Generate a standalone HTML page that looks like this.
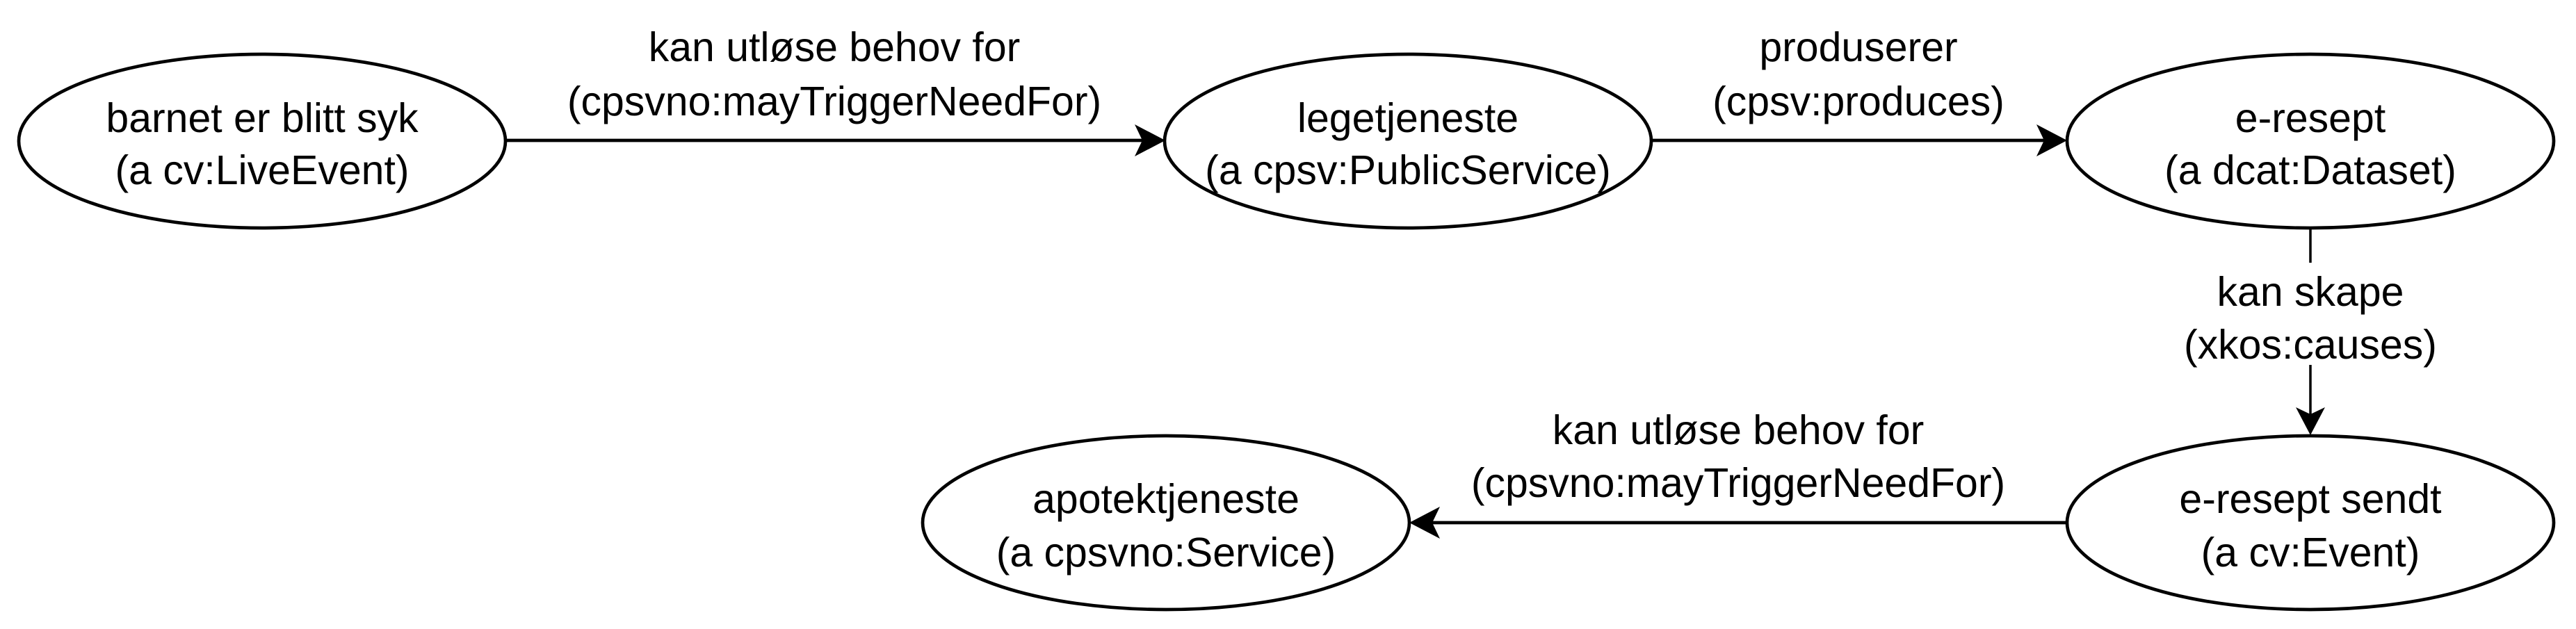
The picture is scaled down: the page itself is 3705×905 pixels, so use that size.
<!DOCTYPE html>
<html><head><meta charset="utf-8"><style>html,body{margin:0;padding:0;background:#fff}svg{display:block}</style></head><body>
<svg width="3705" height="905" viewBox="0 0 3705 905" xmlns="http://www.w3.org/2000/svg" font-family="Liberation Sans, Arial, sans-serif" font-size="59">
<g fill="#fff" stroke="#000" stroke-width="4.7">
<ellipse cx="377" cy="203" rx="350" ry="125"/>
<ellipse cx="2025" cy="203" rx="350" ry="125"/>
<ellipse cx="3323" cy="203" rx="350" ry="125"/>
<ellipse cx="3323" cy="752" rx="350" ry="125"/>
<ellipse cx="1677" cy="752" rx="350" ry="125"/>
</g>
<g stroke="#000" fill="none">
<line x1="728" y1="202" x2="1650" y2="202" stroke-width="4.7"/>
<line x1="2375" y1="202" x2="2947" y2="202" stroke-width="4.7"/>
<line x1="2973" y1="752" x2="2053" y2="752" stroke-width="4.7"/>
<line x1="3323" y1="328" x2="3323" y2="378" stroke-width="3.5"/>
<line x1="3323" y1="525" x2="3323" y2="600" stroke-width="3.5"/>
</g>
<g fill="#000">
<path d="M1676,202 L1632,225 L1643,202 L1632,179 Z"/>
<path d="M2973,202 L2929,225 L2940,202 L2929,179 Z"/>
<path d="M2027,752 L2071,729 L2060,752 L2071,775 Z"/>
<path d="M3323,626 L3302,586 L3323,596 L3344,586 Z"/>
</g>
<g text-anchor="middle" dominant-baseline="central" fill="#000">
<text x="377" y="170">barnet er blitt syk</text>
<text x="377" y="245">(a cv:LiveEvent)</text>
<text x="2025" y="170">legetjeneste</text>
<text x="2025" y="245">(a cpsv:PublicService)</text>
<text x="3323" y="170">e-resept</text>
<text x="3323" y="245">(a dcat:Dataset)</text>
<text x="3323" y="718">e-resept sendt</text>
<text x="3323" y="795">(a cv:Event)</text>
<text x="1677" y="718">apotektjeneste</text>
<text x="1677" y="795">(a cpsvno:Service)</text>
<text x="1200" y="68">kan utløse behov for</text>
<text x="1200" y="146">(cpsvno:mayTriggerNeedFor)</text>
<text x="2673" y="68">produserer</text>
<text x="2673" y="146">(cpsv:produces)</text>
<text x="3323" y="420">kan skape</text>
<text x="3323" y="496">(xkos:causes)</text>
<text x="2500" y="619">kan utløse behov for</text>
<text x="2500" y="695">(cpsvno:mayTriggerNeedFor)</text>
</g>
</svg>
</body></html>
